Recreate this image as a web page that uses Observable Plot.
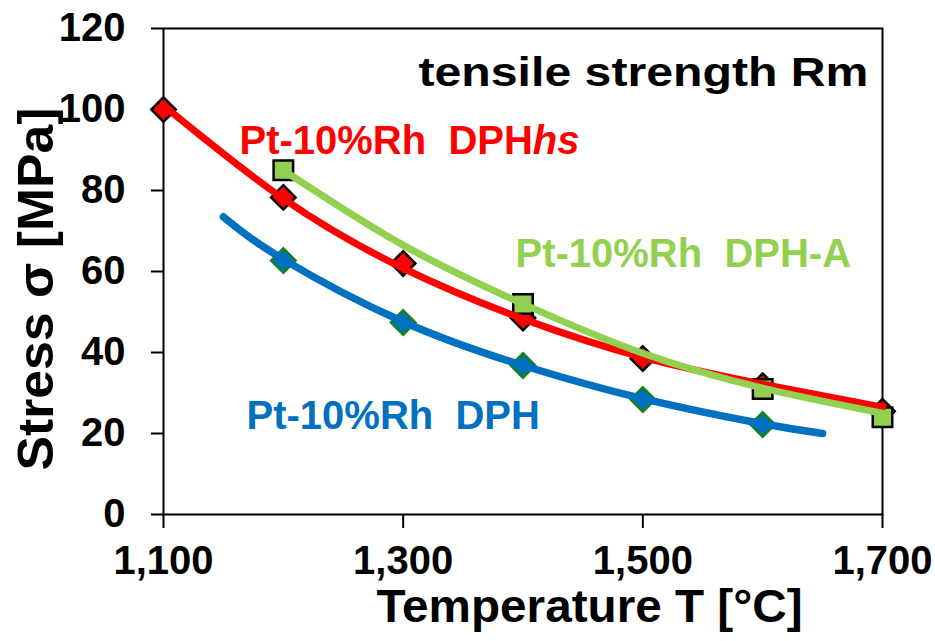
<!DOCTYPE html>
<html>
<head>
<meta charset="utf-8">
<script src="https://cdn.jsdelivr.net/npm/d3@7"></script>
<script src="https://cdn.jsdelivr.net/npm/@observablehq/plot@0.6"></script>
<style>
  html, body { margin: 0; padding: 0; background: #fff; }
</style>
</head>
<body>
<div id="chart"></div>
<script>
// ---- data ----
const xTicks = [1100, 1300, 1500, 1700];
const yTicks = [0, 20, 40, 60, 80, 100, 120];

// measured points (markers)
const tempsHs = [1100, 1200, 1300, 1400, 1500, 1600, 1700];
const stressHs = [100, 78.3, 62, 48.5, 38.5, 31.8, 25.5];

const tempsA = [1200, 1400, 1600, 1700];
const stressA = [85, 52, 31, 24];

const tempsDph = [1200, 1300, 1400, 1500, 1600];
const stressDph = [62.7, 47.4, 36.8, 28.4, 22.2];

// trend curves
const trendTempsHs = [1100, 1200, 1300, 1400, 1500, 1600, 1700];
const trendHs = [101, 78, 60.8, 48.3, 38.8, 32.2, 26.5];

const trendTempsA = [1200, 1300, 1400, 1500, 1600, 1700];
const trendA = [85, 66.5, 52, 39.8, 31.2, 25];

const trendTempsDph = [1150, 1200, 1300, 1400, 1500, 1600, 1650];
const trendDph = [73.5, 63, 47.6, 36.8, 28.6, 22.4, 20];

const titleText = "tensile strength Rm";
const labelHs = "Pt-10%Rh  DPH";
const labelA = "Pt-10%Rh  DPH-A";
const labelDph = "Pt-10%Rh  DPH";
const xLabel = "Temperature T [°C]";
const yLabel = "Stress σ [MPa]";

// ---- build tables ----
const zip = (xs, ys) => xs.map((x, i) => ({x, y: ys[i]}));
const ptsHs = zip(tempsHs, stressHs);
const ptsA = zip(tempsA, stressA);
const ptsDph = zip(tempsDph, stressDph);
const lineHs = zip(trendTempsHs, trendHs);
const lineA = zip(trendTempsA, trendA);
const lineDph = zip(trendTempsDph, trendDph);

const RED = "#FF0000", GREEN = "#92D050", BLUE = "#0070C0";
const FONT = "'Liberation Sans', Arial, sans-serif";

const chart = Plot.plot({
  width: 935,
  height: 641,
  marginLeft: 163,
  marginRight: 53,
  marginTop: 28,
  marginBottom: 127,
  style: {fontFamily: FONT, fontSize: "40px", fontWeight: "bold", color: "black", background: "white"},
  x: {domain: [1100, 1700]},
  y: {domain: [0, 120]},
  marks: [
    Plot.axisX({ticks: xTicks, tickFormat: d3.format(","), tickSize: 14, tickPadding: 17, strokeWidth: 2, label: null}),
    Plot.axisY({ticks: yTicks, tickSize: 12, tickPadding: 26, strokeWidth: 2, label: null}),
    Plot.frame({stroke: "black", strokeWidth: 2}),
    // markers
    Plot.dot(ptsHs, {x: "x", y: "y", symbol: "diamond2", r: 11, fill: RED, stroke: "black", strokeWidth: 2.5}),
    Plot.dot(ptsDph, {x: "x", y: "y", symbol: "diamond2", r: 11, fill: BLUE, stroke: "#178017", strokeWidth: 2.5}),
    Plot.dot(ptsA, {x: "x", y: "y", symbol: "square", r: 11, fill: GREEN, stroke: "black", strokeWidth: 2.5}),
    // trend lines
    Plot.line(lineDph, {x: "x", y: "y", stroke: BLUE, strokeWidth: 7.5, curve: "natural", strokeLinecap: "round"}),
    Plot.line(lineHs, {x: "x", y: "y", stroke: RED, strokeWidth: 7, curve: "natural", strokeLinecap: "round"}),
    Plot.line(lineA, {x: "x", y: "y", stroke: GREEN, strokeWidth: 7, curve: "natural", strokeLinecap: "round"}),
    // annotations
    Plot.text([titleText], {text: d => d, x: 1688.3, y: 105.9, textAnchor: "end", lineAnchor: "bottom", fontSize: 41, fontWeight: "bold", fill: "black"}),
    Plot.text([labelHs], {text: d => d, x: 1163.4, y: 89.1, textAnchor: "start", lineAnchor: "bottom", fontSize: 40, fontWeight: "bold", fill: RED}),
    Plot.text([labelA], {text: d => d, x: 1393.7, y: 61.2, textAnchor: "start", lineAnchor: "bottom", fontSize: 40, fontWeight: "bold", fill: GREEN}),
    Plot.text([labelDph], {text: d => d, x: 1169.3, y: 21.0, textAnchor: "start", lineAnchor: "bottom", fontSize: 40, fontWeight: "bold", fill: BLUE}),
    // axis titles
    Plot.text([xLabel], {text: d => d, frameAnchor: "bottom", textAnchor: "middle", dx: 66.5, dy: 107, lineAnchor: "bottom", fontSize: 46, fontWeight: "bold", fill: "black"}),
    Plot.text([yLabel], {text: d => d, frameAnchor: "left", textAnchor: "middle", rotate: -90, dx: -111, dy: 17.5, lineAnchor: "bottom", fontSize: 50, fontWeight: "bold", fill: "black"})
  ]
});

document.getElementById("chart").appendChild(chart);

// post-processing: italic "hs" suffix on the red label and width fitting
const svg = d3.select(chart);
svg.selectAll("text").each(function () {
  const t = d3.select(this);
  const s = this.textContent;
  if (s === titleText) {
    t.attr("textLength", 450).attr("lengthAdjust", "spacingAndGlyphs");
  }
  if (s === xLabel) {
    t.attr("textLength", 426).attr("lengthAdjust", "spacingAndGlyphs");
  }
  if (s === yLabel) {
    t.attr("textLength", 363).attr("lengthAdjust", "spacingAndGlyphs");
  }
});
// the red label is the one whose fill is red
svg.selectAll("text").filter(function () {
  return this.textContent === labelHs && (this.getAttribute("fill") === RED || (this.parentNode && this.parentNode.getAttribute("fill") === RED));
}).each(function () {
  d3.select(this).append("tspan").attr("font-style", "italic").text("hs");
});
</script>
</body>
</html>
